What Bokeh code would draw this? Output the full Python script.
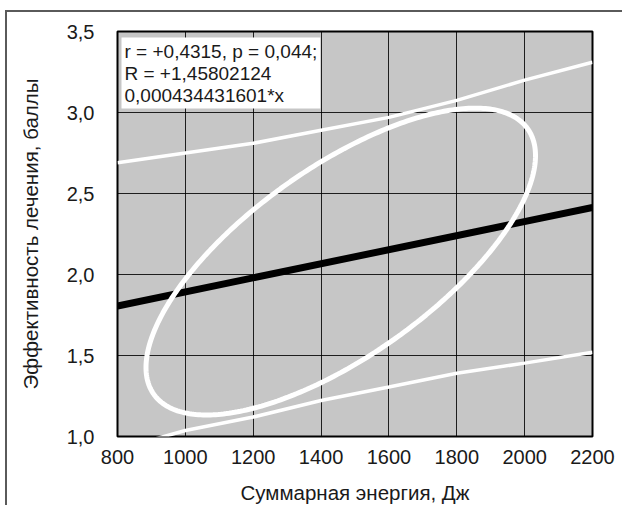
import numpy as np
from bokeh.plotting import figure
from bokeh.models import Label, FixedTicker, CustomJSTickFormatter
from bokeh.embed import file_html
from bokeh.resources import INLINE

# ---- data ----
x_ticks = [800, 1000, 1200, 1400, 1600, 1800, 2000, 2200]
y_ticks = [1.0, 1.5, 2.0, 2.5, 3.0, 3.5]

intercept = 1.45802124
slope = 0.000434431601

band_x = [800, 1000, 1200, 1400, 1600, 1800, 2000, 2200]
upper_band = [2.69, 2.75, 2.81, 2.89, 2.97, 3.075, 3.20, 3.31]
lower_band = [0.92, 1.037, 1.12, 1.222, 1.305, 1.39, 1.453, 1.52]

# confidence ellipse: centre, half-ranges, correlation
ell_cx, ell_cy = 1458, 2.08
ell_ax, ell_ay = 574, 0.947
ell_rho = 0.69

stats_text = "r = +0,4315, p = 0,044;\nR = +1,45802124\n0,000434431601*x"

FONT = "Liberation Sans"

p = figure(output_backend="svg", toolbar_location=None,
           frame_width=475, frame_height=405,
           min_border_left=110, min_border_top=19, min_border_right=30, min_border_bottom=62,
           x_range=(800, 2200), y_range=(1.0, 3.5))
p.styles = {"margin-left": "5px", "margin-top": "10px",
            "border-left": "2px solid #5a5a5a", "border-top": "2px solid #5a5a5a"}

p.background_fill_color = "#c6c6c6"
p.border_fill_color = "white"
p.outline_line_color = "black"
p.outline_line_width = 2

for ax in (p.xaxis[0], p.yaxis[0]):
    ax.axis_line_color = None
    ax.major_tick_line_color = None
    ax.minor_tick_line_color = None
    ax.major_label_text_font = FONT
    ax.major_label_text_font_size = "20px"
    ax.major_label_text_color = "#1a1a1a"
    ax.axis_label_text_font = FONT
    ax.axis_label_text_font_size = "20.5px"
    ax.axis_label_text_font_style = "normal"
    ax.axis_label_text_color = "#1a1a1a"

p.xaxis.ticker = FixedTicker(ticks=x_ticks)
p.yaxis.ticker = FixedTicker(ticks=y_ticks)
p.yaxis.formatter = CustomJSTickFormatter(code="return tick.toFixed(1).replace('.', ',');")
p.xaxis.major_label_standoff = 7
p.yaxis.major_label_standoff = 17
p.xaxis.axis_label = "Суммарная энергия, Дж"
p.yaxis.axis_label = "Эффективность лечения, баллы"
p.xaxis.axis_label_standoff = 14
p.yaxis.axis_label_standoff = 22

p.grid.grid_line_color = "black"
p.grid.grid_line_width = 1
p.grid.grid_line_alpha = 0.85

# confidence bands
p.line(band_x, upper_band, line_color="white", line_width=3.5)
p.line(band_x, lower_band, line_color="white", line_width=3.5)

# regression line
reg_x = np.array([x_ticks[0], x_ticks[-1]], dtype=float)
p.line(reg_x, intercept + slope * reg_x, line_color="black", line_width=7)

# ellipse
t = np.linspace(0, 2 * np.pi, 361)
phi = np.arccos(ell_rho)
ex = ell_cx + ell_ax * np.cos(t)
ey = ell_cy + ell_ay * np.cos(t - phi)
p.line(ex, ey, line_color="white", line_width=5)

lbl = Label(x=800, y=3.5, x_offset=4, y_offset=-6, text=stats_text,
            anchor="top_left", text_font=FONT, text_font_size="19px",
            text_color="#1a1a1a", text_line_height=1.05,
            background_fill_color="white", padding=3)
p.add_layout(lbl)

open("out.html", "w").write(file_html(p, INLINE))
